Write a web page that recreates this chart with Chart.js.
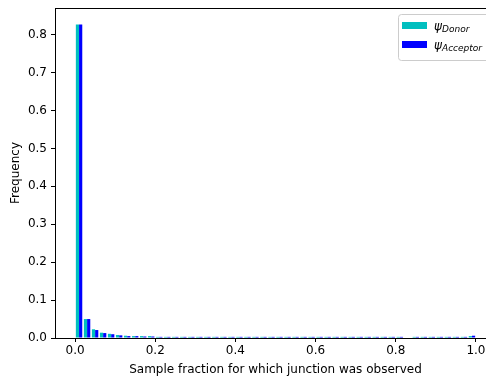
<!DOCTYPE html>
<html>
<head>
<meta charset="utf-8">
<script src="https://cdn.jsdelivr.net/npm/chart.js@4"></script>
<style>
  html, body { margin: 0; padding: 0; background: #fff; overflow: hidden; }
  #wrap { width: 520px; height: 377px; }
</style>
</head>
<body>
<div id="wrap"><canvas id="histChart" width="520" height="377"></canvas></div>
<script>
// bin centres (50 bins of width 0.02 from 0 to 1)
var binCenters = [0.01, 0.03, 0.05, 0.07, 0.09, 0.11, 0.13, 0.15, 0.17, 0.19,
  0.21, 0.23, 0.25, 0.27, 0.29, 0.31, 0.33, 0.35, 0.37, 0.39,
  0.41, 0.43, 0.45, 0.47, 0.49, 0.51, 0.53, 0.55, 0.57, 0.59,
  0.61, 0.63, 0.65, 0.67, 0.69, 0.71, 0.73, 0.75, 0.77, 0.79,
  0.81, 0.83, 0.85, 0.87, 0.89, 0.91, 0.93, 0.95, 0.97, 0.99];

var donorFreq = [0.827, 0.050, 0.023, 0.014, 0.011, 0.008, 0.006, 0.005, 0.005, 0.005,
  0.003, 0.003, 0.003, 0.003, 0.003, 0.003, 0.003, 0.003, 0.003, 0.003,
  0.003, 0.003, 0.003, 0.003, 0.003, 0.003, 0.003, 0.003, 0.003, 0.003,
  0.003, 0.003, 0.003, 0.003, 0.003, 0.003, 0.003, 0.003, 0.003, 0.003,
  0.003, 0.000, 0.003, 0.003, 0.003, 0.003, 0.003, 0.003, 0.003, 0.005];

var acceptorFreq = [0.827, 0.050, 0.021, 0.013, 0.010, 0.007, 0.005, 0.005, 0.004, 0.004,
  0.003, 0.003, 0.003, 0.003, 0.003, 0.003, 0.003, 0.003, 0.003, 0.003,
  0.003, 0.003, 0.003, 0.003, 0.003, 0.003, 0.003, 0.003, 0.003, 0.003,
  0.003, 0.003, 0.003, 0.003, 0.003, 0.003, 0.003, 0.003, 0.003, 0.003,
  0.003, 0.000, 0.003, 0.003, 0.003, 0.003, 0.003, 0.003, 0.003, 0.006];

var xTicks = [0.0, 0.2, 0.4, 0.6, 0.8, 1.0];
var yTicks = [0.0, 0.1, 0.2, 0.3, 0.4, 0.5, 0.6, 0.7, 0.8];

var fontFam = "'DejaVu Sans', sans-serif";

function toPoints(vals) {
    return binCenters.map(function (c, i) { return { x: c, y: vals[i] }; });
}

// frame round the plot, like matplotlib spines
var framePlugin = {
    id: 'frame',
    afterDraw: function (chart) {
        var a = chart.chartArea, ctx = chart.ctx;
        ctx.save();
        ctx.strokeStyle = '#000';
        ctx.lineWidth = 1;
        ctx.strokeRect(Math.round(a.left) + 0.5, Math.round(a.top) + 0.5,
            Math.round(a.right - a.left), Math.round(a.bottom - a.top));
        ctx.restore();
    }
};

// legend with psi and subscripts
var psiLegend = {
    id: 'psiLegend',
    afterDraw: function (chart) {
        var ctx = chart.ctx;
        var items = [
            { color: '#00BFBF', sub: 'Donor' },
            { color: '#0000FF', sub: 'Acceptor' }
        ];
        var bx = 398, by = 14, bw = 100, bh = 46;
        ctx.save();
        ctx.fillStyle = 'rgba(255,255,255,0.8)';
        ctx.strokeStyle = '#cccccc';
        ctx.lineWidth = 1;
        ctx.beginPath();
        ctx.roundRect(bx + 0.5, by + 0.5, bw, bh, 3);
        ctx.fill();
        ctx.stroke();
        items.forEach(function (it, i) {
            var y = by + 11 + i * 19;
            ctx.fillStyle = it.color;
            ctx.fillRect(402, y - 3, 25, 7);
            ctx.fillStyle = '#000';
            ctx.textBaseline = 'alphabetic';
            ctx.font = 'italic 12px ' + fontFam;
            ctx.fillText('\u03C8', 434, y + 5);
            ctx.font = 'italic 9px ' + fontFam;
            ctx.fillText(it.sub, 442, y + 7);
        });
        ctx.restore();
    }
};

var ctx = document.getElementById('histChart');
var histChart = new Chart(ctx, {
    type: 'bar',
    data: {
        datasets: [{
                label: 'Donor',
                data: toPoints(donorFreq),
                backgroundColor: '#00BFBF',
                borderWidth: 0
            }, {
                label: 'Acceptor',
                data: toPoints(acceptorFreq),
                backgroundColor: '#0000FF',
                borderWidth: 0
            }]
    },
    options: {
        responsive: false,
        animation: false,
        layout: { padding: { top: 8, right: 24, left: 0, bottom: 0 } },
        datasets: { bar: { categoryPercentage: 0.8, barPercentage: 1.0 } },
        plugins: { legend: { display: false }, tooltip: { enabled: false } },
        scales: {
            x: {
                type: 'linear',
                min: -0.05,
                max: 1.05,
                offset: false,
                afterFit: function (s) {
                    s.height = 39;
                    s.paddingLeft = 0;
                    s.paddingRight = 0;
                },
                afterBuildTicks: function (s) {
                    s.ticks = xTicks.map(function (v) { return { value: v }; });
                },
                ticks: {
                    color: '#000',
                    font: { family: fontFam, size: 12 },
                    padding: 2,
                    maxRotation: 0,
                    callback: function (v) { return v.toFixed(1); }
                },
                grid: { offset: false, drawOnChartArea: false, tickLength: 4, color: '#000' },
                border: { color: '#000' },
                title: {
                    display: true,
                    text: 'Sample fraction for which junction was observed',
                    color: '#000',
                    font: { family: fontFam, size: 12 },
                    padding: { top: 0, bottom: 0 }
                }
            },
            y: {
                min: 0,
                max: 0.8705,
                afterFit: function (s) {
                    s.width = 55;
                    s.paddingTop = 0;
                    s.paddingBottom = 0;
                },
                afterBuildTicks: function (s) {
                    s.ticks = yTicks.map(function (v) { return { value: v }; });
                },
                ticks: {
                    color: '#000',
                    font: { family: fontFam, size: 12 },
                    padding: 4,
                    callback: function (v) { return v.toFixed(1); }
                },
                grid: { drawOnChartArea: false, tickLength: 4, color: '#000' },
                border: { color: '#000' },
                title: {
                    display: true,
                    text: 'Frequency',
                    color: '#000',
                    font: { family: fontFam, size: 12 },
                    padding: { top: 9, bottom: 2 }
                }
            }
        }
    },
    plugins: [framePlugin, psiLegend]
});
</script>
</body>
</html>
